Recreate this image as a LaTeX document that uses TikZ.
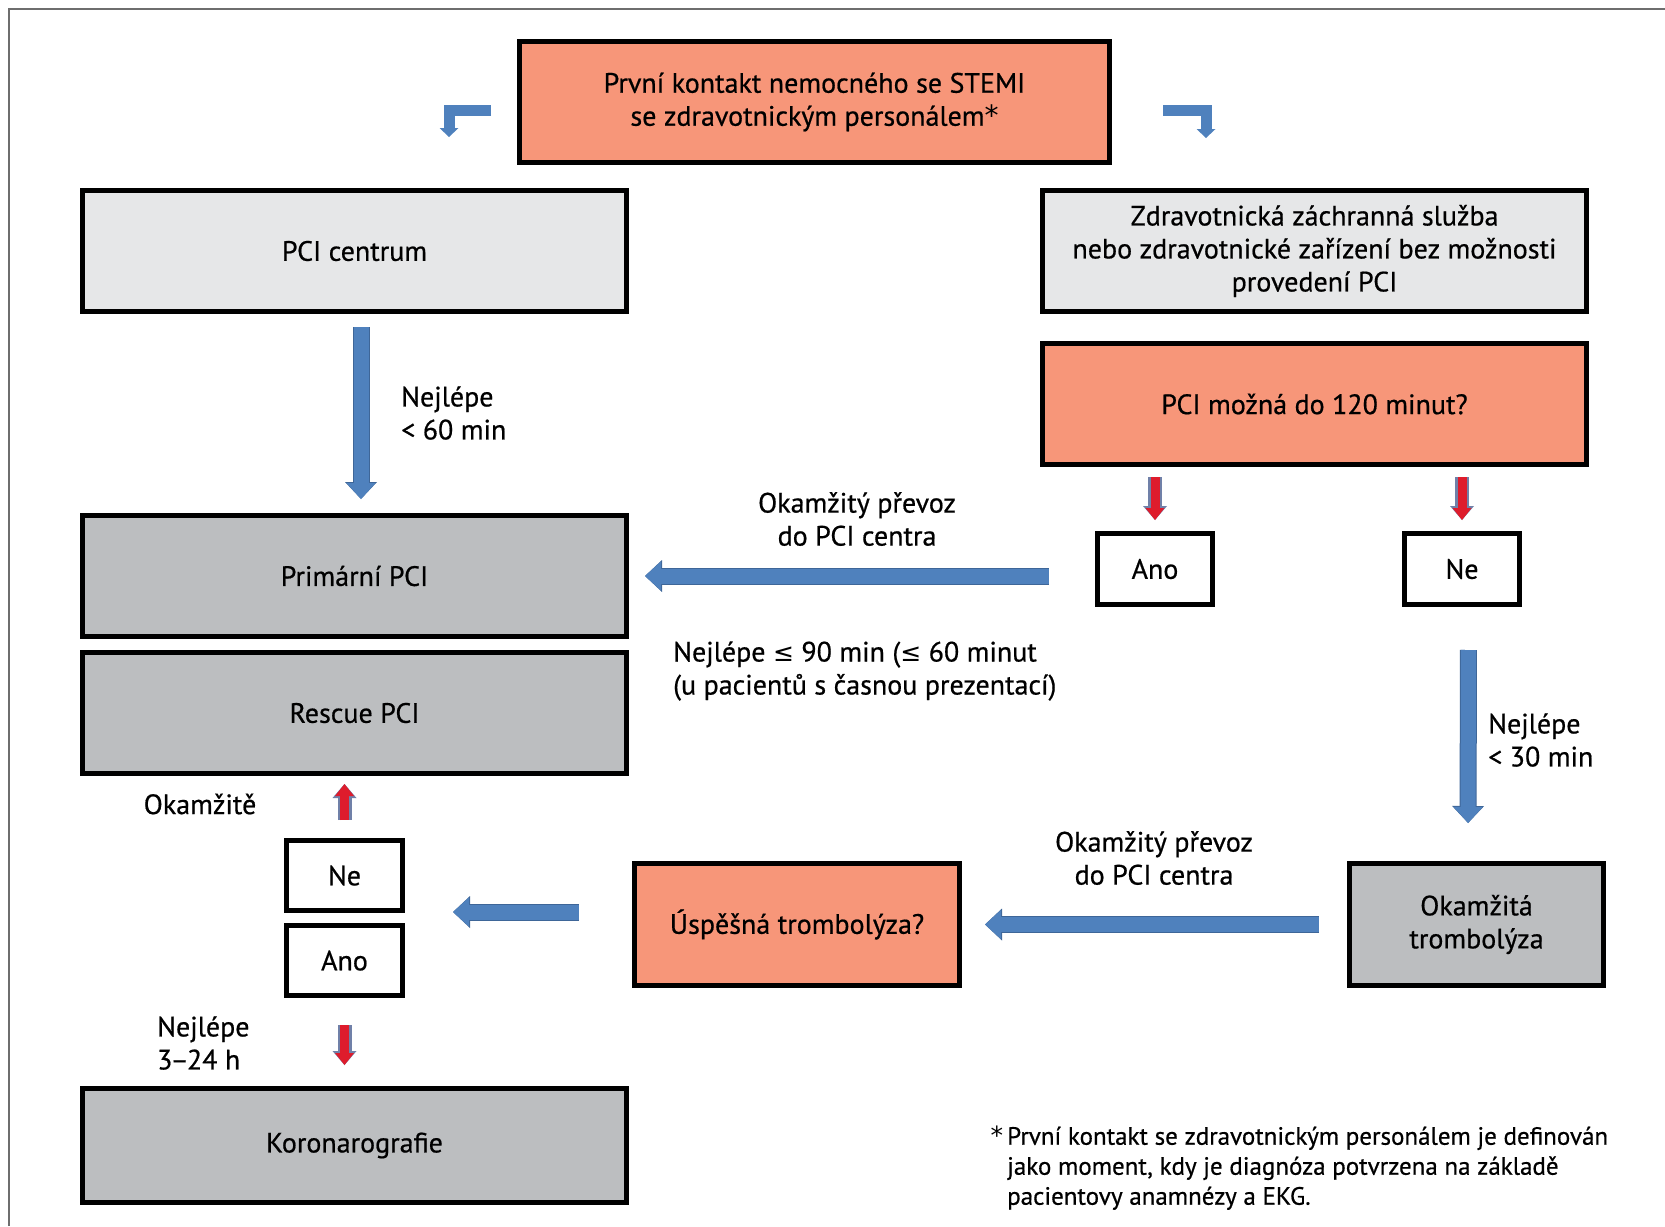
\documentclass[tikz,border=0pt]{standalone}
\usepackage{fontspec}
\setmainfont{PT Sans}[FakeBold=0.6]
\newfontfamily\symfont{DejaVu Sans}
\usetikzlibrary{arrows.meta,positioning}

\definecolor{boxorange}{RGB}{247,150,121}
\definecolor{boxlight}{RGB}{230,231,232}
\definecolor{boxgray}{RGB}{188,190,192}
\definecolor{arrowblue}{RGB}{79,129,189}
\definecolor{arrowedge}{RGB}{62,102,152}
\definecolor{arrowred}{RGB}{222,28,44}
\definecolor{rededge}{RGB}{112,128,168}
\definecolor{framegray}{RGB}{110,110,110}

\newcommand{\lesym}{{\symfont\fontsize{25}{30}\selectfont ≤}}
\newcommand{\hvezda}{{\symfont *}}

\tikzset{
  box/.style={draw=black, line width=5pt, align=center, inner sep=0pt,
    font=\fontsize{28}{33}\selectfont, minimum width=544pt, minimum height=121pt},
  smallbox/.style={draw=black, line width=5pt, fill=white, inner sep=0pt,
    font=\fontsize{28}{33}\selectfont, minimum width=115pt, minimum height=71pt},
  lbl/.style={align=center, inner sep=0pt, font=\fontsize{28}{33}\selectfont},
  note/.style={align=left, inner sep=0pt, font=\fontsize{25}{30}\selectfont},
  fatarrow/.style={draw=arrowblue, line width=15pt,
    -{Triangle[length=16pt,width=29pt,line width=0pt]},
    preaction={draw=arrowedge, line width=17pt,
      -{Triangle[length=17pt,width=32pt,line width=0pt]}}},
  bentarrow/.style={draw=arrowblue, line width=11pt, line join=miter,
    -{Triangle[length=9pt,width=19pt,line width=0pt]}},
  redarrow/.style={draw=arrowred, line width=9pt,
    -{Triangle[length=12pt,width=19pt,line width=0pt]},
    preaction={draw=rededge, line width=14pt,
      -{Triangle[length=14pt,width=24pt,line width=0pt]}}}
}

\begin{document}
\begin{tikzpicture}[x=1pt, y=-1pt]
  \useasboundingbox (0,0) rectangle (1665,1226);
  \draw[framegray, line width=2pt] (9,1226) -- (9,8.5) -- (1665,8.5);

  %%%%%%%%%%%%%%%%boxes%%%%%%%%%%%%%%
  \node[box, fill=boxorange, minimum width=590pt] (first) at (814.5,102)
    {První kontakt nemocného se STEMI\\se zdravotnickým personálem\hvezda};
  \node[box, fill=boxlight] (pcic) at (354.5,251) {PCI centrum};
  \node[box, fill=boxlight] (zzs) at (1314.5,251)
    {Zdravotnická záchranná služba\\nebo zdravotnické zařízení bez možnosti\\provedení PCI};
  \node[box, fill=boxorange] (pcimoz) at (1314.5,404) {PCI možná do 120 minut?};
  \node[box, fill=boxgray] (primpci) at (354.5,576) {Primární PCI};
  \node[box, fill=boxgray, below=11pt of primpci] (rescue) {Rescue PCI};
  \node[smallbox] (anoR) at (1155,569) {Ano};
  \node[smallbox, right=187pt of anoR] (neR) {Ne};
  \node[box, fill=boxgray, minimum width=254pt, minimum height=122pt] (okam)
    at (1476.5,924.5) {Okamžitá\\trombolýza};
  \node[box, fill=boxorange, minimum width=325pt, minimum height=122pt] (usp)
    at (797,924.5) {Úspěšná trombolýza?};
  \node[smallbox, minimum width=116pt, minimum height=70pt] (neL) at (344.5,875.5) {Ne};
  \node[smallbox, minimum width=116pt, minimum height=70pt, below=10pt of neL] (anoL) {Ano};
  \node[box, fill=boxgray, minimum height=114pt] (koro) at (354.5,1145.5) {Koronarografie};

  %%%%%%%%%%%%%%%%labels%%%%%%%%%%%%%%
  \node[lbl, anchor=west, align=left] (l60) at (401,413) {Nejlépe\\< 60 min};
  \node[lbl] (prevoz1) at (857,519) {Okamžitý převoz\\do PCI centra};
  \node[lbl, anchor=west, align=left] (l90) at (673,671)
    {Nejlépe \lesym{} 90 min (\lesym{} 60 minut\\(u pacientů s časnou prezentací)};
  \node[lbl, anchor=west, align=left] (l30) at (1488,740) {Nejlépe\\< 30 min};
  \node[lbl] (prevoz2) at (1154,858) {Okamžitý převoz\\do PCI centra};
  \node[lbl] (ihned) at (200,804) {Okamžitě};
  \node[lbl, anchor=west, align=left] (l324) at (157,1043) {Nejlépe\\3\kern-2pt–\kern-2pt24 h};
  \node[note, anchor=west] (pozn) at (1007,1168)
    {\llap{\hvezda\,}První kontakt se zdravotnickým personálem je definován\\jako moment, kdy je diagnóza potvrzena na základě\\pacientovy anamnézy a EKG.};

  %%%%%%%%%%%%%%%%arrows%%%%%%%%%%%%%%
  \draw[bentarrow, shorten <=26pt] ([yshift=-8pt]first.west) -| ([xshift=-68pt,yshift=-35pt]first.west);
  \draw[bentarrow, shorten <=51pt] ([yshift=-8pt]first.east) -| ([xshift=94pt,yshift=-36pt]first.east);
  \draw[fatarrow, shorten <=13pt, shorten >=14pt] ([xshift=6.5pt]pcic.south) -- ([xshift=6.5pt]primpci.north);
  \draw[redarrow, shorten <=10pt, shorten >=11pt] (anoR.north |- pcimoz.south) -- (anoR.north);
  \draw[redarrow, shorten <=10pt, shorten >=11pt] (neR.north |- pcimoz.south) -- (neR.north);
  \draw[fatarrow, shorten <=46pt, shorten >=16pt] (primpci.east -| anoR.west) -- (primpci.east);
  \draw[fatarrow, shorten <=43pt, shorten >=38pt] ([xshift=6.5pt]neR.south) -- ([xshift=-8.5pt]okam.north);
  \draw[fatarrow, shorten <=28pt, shorten >=23pt] (okam.west) -- (usp.east);
  \draw[fatarrow, shorten <=53pt, shorten >=48pt] ([yshift=12.5pt]usp.west) -- ([yshift=-36.5pt]neL.east);
  \draw[redarrow, shorten <=18pt, shorten >=8pt] (neL.north) -- (neL.north |- rescue.south);
  \draw[redarrow, shorten <=27pt, shorten >=21pt] (anoL.south) -- (anoL.south |- koro.north);
\end{tikzpicture}
\end{document}
